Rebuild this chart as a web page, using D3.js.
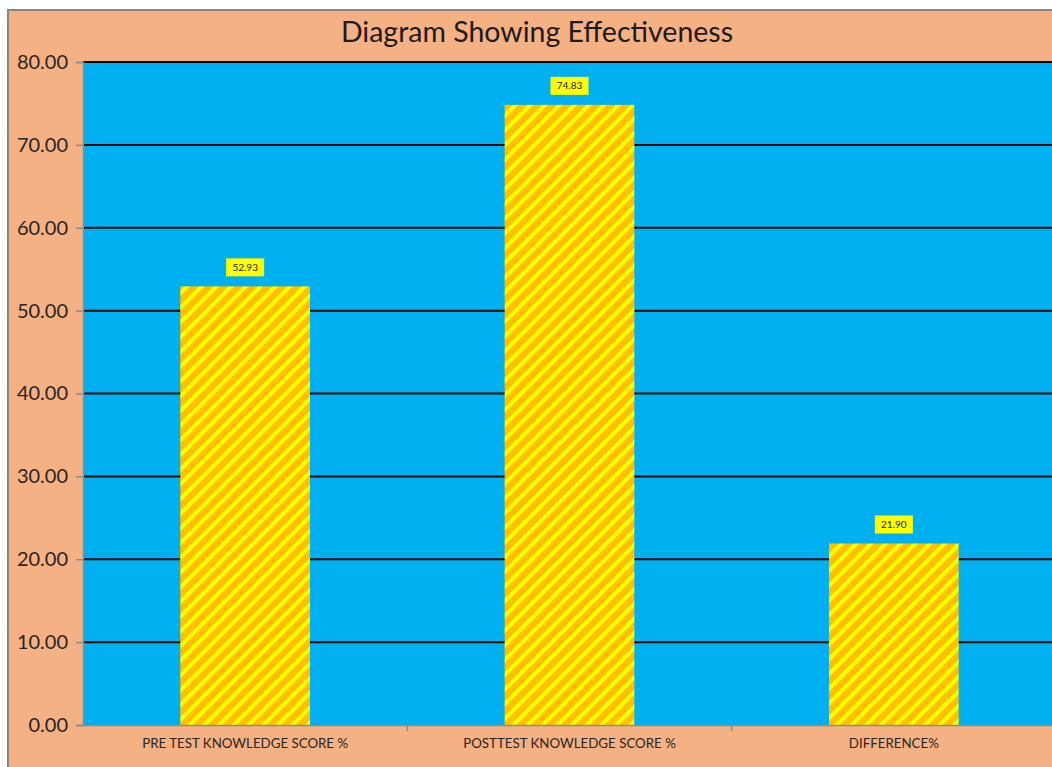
<!DOCTYPE html>
<html>
<head>
<meta charset="utf-8">
<script src="https://cdn.jsdelivr.net/npm/d3@7"></script>
<style>
  html, body { margin: 0; padding: 0; background: #ffffff; }
  svg { display: block; }
  text { font-family: Lato, "Open Sans", sans-serif; }
</style>
</head>
<body>
<svg id="chart" width="1052" height="767"></svg>
<script>
// Scores shown in the chart
const categories = ["PRE TEST KNOWLEDGE SCORE %", "POSTTEST KNOWLEDGE SCORE %", "DIFFERENCE%"];
const values = [52.93, 74.83, 21.90];
const yTicks = [0, 10, 20, 30, 40, 50, 60, 70, 80];
const title = "Diagram Showing Effectiveness";

const W = 1052, H = 767;
const frame = { left: 8, top: 10 };
const plot = { left: 83, right: 1056, top: 62, bottom: 725 };

const svg = d3.select("#chart");

// Hatched fill for the bars
const defs = svg.append("defs");
const pat = defs.append("pattern")
  .attr("id", "hatch")
  .attr("patternUnits", "userSpaceOnUse")
  .attr("width", 10.4).attr("height", 10.4)
  .attr("patternTransform", "rotate(45)");
pat.append("rect").attr("width", 10.4).attr("height", 10.4).attr("fill", "#FFC000");
pat.append("rect").attr("x", 0).attr("width", 4).attr("height", 10.4).attr("fill", "#FFFF00");

// Chart frame
svg.append("rect")
  .attr("x", frame.left).attr("y", frame.top)
  .attr("width", W - frame.left + 2).attr("height", H - frame.top + 2)
  .attr("fill", "#F4B183")
  .attr("stroke", "#8c8579").attr("stroke-width", 2);

// Scales
const x = d3.scaleBand().domain(categories).range([plot.left, plot.right]).paddingInner(0.6).paddingOuter(0.3);
const xCat = d3.scaleBand().domain(categories).range([plot.left, plot.right]);
const y = d3.scaleLinear().domain([0, 80]).range([plot.bottom, plot.top]);

// Plot area
svg.append("rect")
  .attr("x", plot.left).attr("y", plot.top)
  .attr("width", plot.right - plot.left).attr("height", plot.bottom - plot.top)
  .attr("fill", "#00B0F0");

// Horizontal gridlines
svg.append("g").selectAll("line")
  .data(yTicks.filter(d => d > 0))
  .join("line")
  .attr("x1", plot.left).attr("x2", plot.right)
  .attr("y1", d => y(d)).attr("y2", d => y(d))
  .attr("stroke", "#0a0a0a").attr("stroke-width", 2);

// Y axis
const yAxis = svg.append("g")
  .attr("transform", `translate(${plot.left},0)`)
  .call(d3.axisLeft(y).tickValues(yTicks).tickFormat(d3.format(".2f")).tickSize(7).tickPadding(8));
yAxis.select(".domain").attr("stroke", "#8c8c8c").attr("stroke-width", 1.5);
yAxis.selectAll(".tick line").attr("stroke", "#8c8c8c").attr("stroke-width", 1.5);
yAxis.selectAll(".tick text")
  .attr("fill", "#2a2522").attr("font-size", 20).attr("font-family", "Lato, sans-serif");

// Bars
svg.append("g").selectAll("rect")
  .data(values)
  .join("rect")
  .attr("x", (d, i) => x(categories[i]))
  .attr("y", d => y(d))
  .attr("width", x.bandwidth())
  .attr("height", d => y(0) - y(d))
  .attr("fill", "url(#hatch)");

// X axis
const xAxis = svg.append("g")
  .attr("transform", `translate(0,${plot.bottom})`)
  .call(d3.axisBottom(xCat).tickSize(0).tickPadding(14));
xAxis.select(".domain").attr("stroke", "#8c8c8c").attr("stroke-width", 1.5);
xAxis.selectAll(".tick text")
  .attr("fill", "#2a2522").attr("font-size", 13.3).attr("font-family", "Lato, sans-serif");
// Category separators
svg.append("g").selectAll("line")
  .data(categories.slice(1))
  .join("line")
  .attr("x1", d => xCat(d)).attr("x2", d => xCat(d))
  .attr("y1", plot.bottom).attr("y2", plot.bottom + 6)
  .attr("stroke", "#8c8c8c").attr("stroke-width", 1.5);

// Value labels
const labels = svg.append("g").selectAll("g")
  .data(values)
  .join("g")
  .attr("transform", (d, i) => `translate(${x(categories[i]) + x.bandwidth() / 2},${y(d) - 19})`);
labels.append("rect")
  .attr("x", -19).attr("y", -9).attr("width", 38).attr("height", 18)
  .attr("fill", "#FFFF00");
labels.append("text")
  .attr("text-anchor", "middle").attr("dy", "0.35em")
  .attr("font-size", 10).attr("fill", "#222")
  .text(d => d3.format(".2f")(d));

// Title
svg.append("text")
  .attr("x", 537).attr("y", 42)
  .attr("text-anchor", "middle")
  .attr("font-size", 28.5).attr("fill", "#1f1a17")
  .text(title);
</script>
</body>
</html>
